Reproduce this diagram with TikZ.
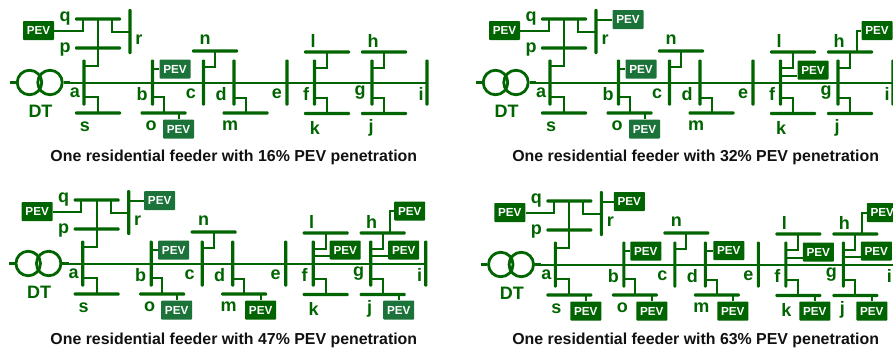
\documentclass[tikz,border=0pt]{standalone}
\usepackage{fontspec}
\setmainfont{Liberation Sans}
\usetikzlibrary{positioning}
\definecolor{feedgreen}{HTML}{006400}
\definecolor{evgreen}{HTML}{1B7339}
\definecolor{captionblack}{HTML}{111111}

\tikzset{
  vbus/.style={fill=feedgreen,inner sep=0pt,minimum width=3.1pt,rounded corners=1pt},
  hbus/.style={fill=feedgreen,inner sep=0pt,minimum width=46pt,minimum height=3.1pt,rounded corners=1pt},
  wire/.style={draw=feedgreen,line width=2pt},
  stub/.style={draw=feedgreen,line width=2.6pt},
  xfmr/.style={circle,draw=feedgreen,line width=2.8pt,inner sep=0pt,minimum size=24.5pt},
  lbl/.style={text=feedgreen,font=\fontsize{18}{18}\selectfont\bfseries,inner sep=0pt},
  pev/.style={fill=feedgreen,text=white,rounded corners=0.8pt,inner sep=0pt,minimum width=31pt,minimum height=19pt,
              font=\fontsize{11.7}{12}\selectfont\bfseries},
  pevlt/.style={pev,fill=evgreen},
  capt/.style={text=captionblack,inner sep=0pt,font=\fontsize{15.9}{17}\selectfont\bfseries},
}

% one feeder without its PEV boxes, #1 = x of the label of bus i
\newcommand{\feederbase}[1]{
  % Transformer
  \node[xfmr] (t1) at (29.5,82.5) {};
  \node[xfmr] (t2) at (50,82.5) {};
  \coordinate (hv) at (10,82.5);
  \coordinate (lv) at (70,82.5);
  \draw[stub] (hv) -- (t1.west);
  \draw[stub] (t2.east) -- (lv);
  % Buses
  \foreach \nm/\px in {a/84,b/152.5,c/203.5,d/234,e/287,f/314.5,g/372,i/427}
    \node[vbus,minimum height=46pt] (\nm) at (\px,82.5) {};
  \node[vbus,minimum height=45pt] (r) at (130,31.5) {};
  \foreach \nm/\px/\py in {q/98/19,p/98/48,s/98/113,o/163.5/113,n/215/51,m/245.5/113,l/327/52,k/327/113.5,h/384/52,j/384/113.5}
    \node[hbus] (\nm) at (\px,\py) {};
  % Lines
  \draw[wire] (lv) -- (i.center);
  \draw[wire] ([yshift=16.5pt]a.center) -| (q.center);
  \draw[wire] ([yshift=-14.5pt]a.center) -| (s.center);
  \draw[wire] ([xshift=14pt]q.center) |- (r.center);
  \draw[wire] ([yshift=-14.5pt]b.center) -| (o.center);
  \draw[wire] ([yshift=15.5pt]c.center) -| (n.center);
  \draw[wire] ([yshift=-15pt]d.center) -| (m.center);
  \draw[wire] ([yshift=14.5pt]f.center) -| (l.center);
  \draw[wire] ([yshift=-15.5pt]f.center) -| (k.center);
  \draw[wire] ([yshift=14.5pt]g.center) -| (h.center);
  \draw[wire] ([yshift=-15.5pt]g.center) -| (j.center);
  % Labels
  \foreach \nm/\px/\py in {a/75/93,b/142/94,c/191/94,d/221/94,e/277/94,f/306/94,g/360/93,i/#1/94,
                           q/65/19,p/65/50,r/139/40,s/85/127,o/151/126,m/230/126,k/315/128,j/371/128,
                           n/205/40,l/313/41,h/373/41}
    \node[lbl] (lab-\nm) at (\px,\py) {\nm};
  \node[lbl] (lab-dt) at (40.5,111) {DT};
}
% PEV box links: below a bus, beside a bus, beside a bus lower down
\newcommand{\evbelow}[1]{\draw[wire] (ev-#1.north) -- (ev-#1.north |- #1.center);}
\newcommand{\evside}[1]{\draw[wire] (ev-#1.west) -- (#1.center |- ev-#1.west);}
\newcommand{\evlow}[1]{\draw[wire] ([yshift=-5.5pt]ev-#1.west) -- ([yshift=-5.5pt]#1.center |- ev-#1.west);}
\newcommand{\evq}{\draw[wire] (ev-q.east) -| ([xshift=-15.5pt]q.center);}
\newcommand{\evh}{\draw[wire] (ev-h.west) -| ([xshift=7pt]h.center);}

\begin{document}
\begin{tikzpicture}[x=1pt,y=-1pt]
  \useasboundingbox (0,0) rectangle (893,351);
  \clip (0,0) rectangle (893,351);

  % Top left
  \begin{scope}[name prefix=fa-]
    \feederbase{421}
    \node[pev]   (ev-q) at (38.5,30.5) {PEV};
    \node[pevlt] (ev-b) at (175,69) {PEV};
    \node[pevlt] (ev-o) at (178.5,129) {PEV};
    \evq \evside{b} \evbelow{o}
  \end{scope}

  % Top right
  \begin{scope}[shift={(466,0)},name prefix=fb-]
    \feederbase{421}
    \node[pev]   (ev-q) at (38.5,30.5) {PEV};
    \node[pevlt] (ev-r) at (162,19.5) {PEV};
    \node[pevlt] (ev-b) at (175,69) {PEV};
    \node[pevlt] (ev-o) at (178.5,129) {PEV};
    \node[pev]   (ev-f) at (347,70) {PEV};
    \node[pev]   (ev-h) at (411,30.5) {PEV};
    \evq \evside{r} \evside{b} \evbelow{o} \evlow{f} \evh
  \end{scope}

  % Bottom left
  \begin{scope}[shift={(-1.3,181)},name prefix=fc-]
    \feederbase{421}
    \node[pev]   (ev-q) at (38.5,30.5) {PEV};
    \node[pevlt] (ev-r) at (161,19.5) {PEV};
    \node[pevlt] (ev-b) at (175,69) {PEV};
    \node[pevlt] (ev-o) at (178,129) {PEV};
    \node[pev]   (ev-m) at (262,129) {PEV};
    \node[pev]   (ev-f) at (346.5,69) {PEV};
    \node[pev]   (ev-g) at (405,69) {PEV};
    \node[pev]   (ev-h) at (411,30) {PEV};
    \node[pevlt] (ev-j) at (400,129) {PEV};
    \evq \evside{r} \evside{b} \evbelow{o} \evbelow{m} \evlow{f} \evlow{g} \evh \evbelow{j}
  \end{scope}

  % Bottom right
  \begin{scope}[shift={(471.3,182)},name prefix=fd-]
    \feederbase{418}
    \node[pev] (ev-q) at (38.5,30.5) {PEV};
    \node[pev] (ev-r) at (158,19.5) {PEV};
    \node[pev] (ev-b) at (174.5,69) {PEV};
    \node[pev] (ev-d) at (257.5,68.5) {PEV};
    \node[pev] (ev-s) at (114.5,129) {PEV};
    \node[pev] (ev-o) at (180.5,129) {PEV};
    \node[pev] (ev-m) at (261.5,129) {PEV};
    \node[pev] (ev-k) at (343.5,129) {PEV};
    \node[pev] (ev-j) at (400.5,129) {PEV};
    \node[pev] (ev-f) at (347,70) {PEV};
    \node[pev] (ev-g) at (405,69) {PEV};
    \node[pev] (ev-h) at (411,30.5) {PEV};
    \evq \evside{r} \evside{b} \evside{d} \evbelow{s} \evbelow{o} \evbelow{m} \evbelow{k} \evbelow{j}
    \evlow{f} \evlow{g} \evh
  \end{scope}

  % Captions
  \node[capt] (cap-a) at (233.8,157.7) {One residential feeder with 16\% PEV penetration};
  \node[capt] (cap-b) at (695.7,157.7) {One residential feeder with 32\% PEV penetration};
  \node[capt] (cap-c) at (233.8,340) {One residential feeder with 47\% PEV penetration};
  \node[capt] (cap-d) at (695.7,340) {One residential feeder with 63\% PEV penetration};
\end{tikzpicture}
\end{document}
